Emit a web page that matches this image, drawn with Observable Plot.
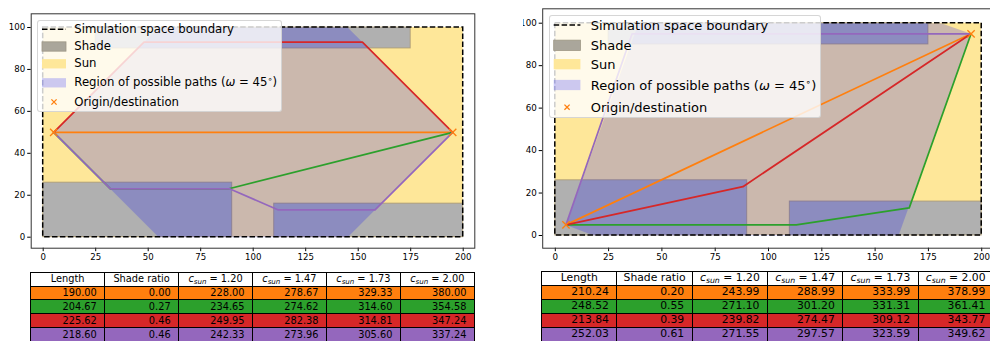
<!DOCTYPE html>
<html><head><meta charset="utf-8">
<script src="https://cdn.jsdelivr.net/npm/d3@7"></script>
<script src="https://cdn.jsdelivr.net/npm/@observablehq/plot@0.6"></script>
<style>
html,body{margin:0;padding:0;background:#fff;}
body{width:990px;height:341px;overflow:hidden;position:relative;font-family:"DejaVu Sans",sans-serif;}
.fig{position:absolute;top:0;overflow:hidden;}
.fig svg{max-width:none !important;display:block;}
.legend{position:absolute;background:rgba(255,255,255,0.8);border:1px solid rgba(204,204,204,0.8);border-radius:3px;box-sizing:border-box;}
.ltxt{position:absolute;white-space:nowrap;color:#000;line-height:1;}
.cell{position:absolute;box-sizing:border-box;border:1px solid #000;display:flex;align-items:center;white-space:nowrap;color:#000;line-height:1;}
.sb{font-size:0.72em;position:relative;top:0.28em;}
.sp{font-size:0.7em;position:relative;top:-0.5em;}
</style></head>
<body>
<script>
// ---------- data ----------
const xTicks = [0, 25, 50, 75, 100, 125, 150, 175, 200];
const yTicks = [0, 20, 40, 60, 80, 100];
const spaceX = [0, 200];
const spaceY = [0, 100];
const shadeX1 = [0, 110, 25];
const shadeX2 = [90, 200, 175];
const shadeY1 = [0, 0, 90];
const shadeY2 = [26, 16, 100];
const pathColors = ["#ff7f0e", "#2ca02c", "#d62728", "#9467bd"];
const legendLabels = ["Simulation space boundary", "Shade", "Sun", "Region of possible paths (ω = 45°)", "Origin/destination"];

// left scenario
const odL = [[5, 50], [195, 50]];
const regionL = [[5, 50], [55, 100], [145, 100], [195, 50], [145, 0], [55, 0]];
const orangeL = [[5, 50], [195, 50]];
const greenL = [[5, 50], [32, 23], [88, 23], [195, 50]];
const redL = [[5, 50], [48, 93], [152, 93], [195, 50]];
const purpleL = [[5, 50], [32, 23], [89, 23], [112, 13], [158, 13], [195, 50]];

// right scenario
const odR = [[5, 5], [195, 95]];
const regionR = [[5, 5], [39, 100], [181, 100], [195, 95], [161, 0], [18, 0]];
const orangeR = [[5, 5], [195, 95]];
const greenR = [[5, 5], [113, 5], [166, 13], [195, 95]];
const redR = [[5, 5], [88, 23], [195, 95]];
const purpleR = [[5, 5], [36, 95], [195, 95]];

// tables
const tableHeader = ["Length", "Shade ratio"];
const csun = [1.20, 1.47, 1.73, 2.00];
const lengthL = [190.00, 204.67, 225.62, 218.60];
const shadeRatioL = [0.00, 0.27, 0.46, 0.46];
const c120L = [228.00, 234.65, 249.95, 242.33];
const c147L = [278.67, 274.62, 282.38, 273.96];
const c173L = [329.33, 314.60, 314.81, 305.60];
const c200L = [380.00, 354.58, 347.24, 337.24];
const lengthR = [210.24, 248.52, 213.84, 252.03];
const shadeRatioR = [0.20, 0.55, 0.39, 0.61];
const c120R = [243.99, 271.10, 239.82, 271.55];
const c147R = [288.99, 301.20, 274.47, 297.57];
const c173R = [333.99, 331.31, 309.12, 323.59];
const c200R = [378.99, 361.41, 343.77, 349.62];

// ---------- styles ----------
const sunColor = "#fee799";
const shadeColor = "#b0b0b0";

function chart(o) {
  const shades = shadeX1.map((x1, i) => ({x1, x2: shadeX2[i], y1: shadeY1[i], y2: shadeY2[i]}));
  const space = [{x1: spaceX[0], x2: spaceX[1], y1: spaceY[0], y2: spaceY[1]}];
  const P = d => d[0], Q = d => d[1];
  return Plot.plot({
    width: o.width, height: o.height,
    marginLeft: o.ml, marginRight: o.mr, marginTop: o.mt, marginBottom: o.mb,
    style: {fontFamily: "DejaVu Sans", fontSize: o.tickFont + "px", color: "#000", background: "transparent"},
    x: {domain: o.xDomain, ticks: xTicks, tickSize: 3.5, tickPadding: 2.5, label: null},
    y: {domain: o.yDomain, ticks: yTicks, tickSize: 3.5, tickPadding: 2.5, label: null},
    marks: [
      Plot.rect(space, {x1: "x1", x2: "x2", y1: "y1", y2: "y2", fill: sunColor}),
      Plot.rect(shades, {x1: "x1", x2: "x2", y1: "y1", y2: "y2", fill: shadeColor, stroke: "#a8966c", strokeOpacity: 0.75, strokeWidth: 1}),
      Plot.line(o.region, {x: P, y: Q, fill: "blue", fillOpacity: 0.2, stroke: "none"}),
      Plot.rect(space, {x1: "x1", x2: "x2", y1: "y1", y2: "y2", fill: "none", stroke: "#000", strokeWidth: 1.5, strokeDasharray: "5.5,2.4"}),
      ...o.paths.map((p, i) => Plot.line(p, {x: P, y: Q, stroke: pathColors[i], strokeWidth: 1.7})),
      Plot.dot(o.od, {x: P, y: Q, symbol: "times", r: 3.4, stroke: "#ff7f0e", strokeWidth: 1.3}),
      Plot.frame({stroke: "#333", strokeWidth: 1})
    ]
  });
}

function place(el, left, w) {
  const wrap = document.createElement("div");
  wrap.className = "fig";
  wrap.style.left = left + "px";
  wrap.style.width = w + "px";
  el.style.maxWidth = "none";
  wrap.appendChild(el);
  document.body.appendChild(wrap);
  return wrap;
}

// left figure
const figL = chart({
  width: 490, height: 268, ml: 30.7, mr: 15.7, mt: 13.3, mb: 20.3,
  xDomain: [-5.71, 205.52], yDomain: [-5.25, 106.53], tickFont: 8.6,
  region: regionL, od: odL, paths: [orangeL, greenL, redL, purpleL]
});
place(figL, 0, 490);

// right figure (its left edge crops the first digit of the top tick label, as in the source image)
const rLeft = 522.5;
const figR = chart({
  width: 480, height: 268, ml: 541.7 - rLeft, mr: (rLeft + 480) - 993.3, mt: 8.3, mb: 20.3,
  xDomain: [-5.91, 205.9], yDomain: [-5.98, 106.78], tickFont: 8.7,
  region: regionR, od: odR, paths: [orangeR, greenR, redR, purpleR]
});
place(figR, rLeft, 480);

// ---------- legends ----------
function labelHTML(s) {
  return s.replace("ω", "<i>ω</i>").replace("°", "<span class='sp'>∘</span>");
}
function legend(c) {
  const d = document.createElement("div");
  d.className = "legend";
  Object.assign(d.style, {left: c.left + "px", top: c.top + "px", width: c.width + "px", height: c.height + "px"});
  const ns = "http://www.w3.org/2000/svg";
  const svg = document.createElementNS(ns, "svg");
  svg.setAttribute("width", c.width); svg.setAttribute("height", c.height);
  svg.style.position = "absolute"; svg.style.left = "-1px"; svg.style.top = "-1px";
  const sx = c.swX - c.left, sw = c.swW, sh = c.swH;
  const add = (tag, attrs) => { const e = document.createElementNS(ns, tag); for (const k in attrs) e.setAttribute(k, attrs[k]); svg.appendChild(e); };
  legendLabels.forEach((lab, i) => {
    const y = c.ys[i] - c.top;
    if (i === 0) add("line", {x1: sx, x2: sx + sw, y1: y, y2: y, stroke: "#000", "stroke-width": 1.5, "stroke-dasharray": "5.5,2.4"});
    if (i === 1) add("rect", {x: sx, y: y - sh / 2, width: sw, height: sh, fill: "#aaa69b", stroke: "#9d9684", "stroke-width": 0.8});
    if (i === 2) add("rect", {x: sx, y: y - sh / 2, width: sw, height: sh, fill: sunColor});
    if (i === 3) add("rect", {x: sx, y: y - sh / 2, width: sw, height: sh, fill: "blue", "fill-opacity": 0.2});
    if (i === 4) {
      const cx = sx + sw / 2, r = 2.6;
      add("path", {d: `M${cx - r},${y - r}L${cx + r},${y + r}M${cx - r},${y + r}L${cx + r},${y - r}`, stroke: "#ff7f0e", "stroke-width": 1.3, fill: "none"});
    }
    const t = document.createElement("div");
    t.className = "ltxt";
    t.style.fontSize = c.font + "px";
    t.style.left = (c.textX - c.left - 1) + "px";
    t.style.top = (y - c.font * 0.55) + "px";
    t.innerHTML = labelHTML(lab);
    d.appendChild(t);
  });
  d.appendChild(svg);
  document.body.appendChild(d);
}
legend({left: 36.7, top: 20, width: 245, height: 92, swX: 41.7, swW: 24, swH: 9.3, textX: 74.3, font: 11.7,
        ys: [29.3, 46.5, 63.8, 82.8, 102]});
legend({left: 549.3, top: 15, width: 271.7, height: 103.3, swX: 554, swW: 26.7, swH: 10.3, textX: 590.7, font: 13,
        ys: [25, 45.3, 64.2, 85, 107.2]});

// ---------- tables ----------
function fmt(v) { return v.toFixed(2); }
function table(c, cols) {
  const headers = [...tableHeader, ...csun.map(v => `<span><i>c</i><span class='sb'><i>sun</i></span> = ${fmt(v)}</span>`)];
  const nrows = cols[0].length;
  for (let r = -1; r < nrows; r++) {
    for (let j = 0; j < 6; j++) {
      const e = document.createElement("div");
      e.className = "cell";
      const top = c.top + (r + 1) * c.rh;
      Object.assign(e.style, {
        left: (c.left + j * c.cw - 0.5) + "px", top: (top - 0.5) + "px",
        width: (c.cw + 1) + "px", height: (c.rh + 1) + "px",
        fontSize: c.font + "px",
        background: r < 0 ? "#fff" : pathColors[r],
        justifyContent: r < 0 ? "center" : "flex-end",
        paddingRight: r < 0 ? "0" : (c.cw * 0.1) + "px"
      });
      e.innerHTML = r < 0 ? headers[j] : `<span>${fmt(cols[j][r])}</span>`;
      document.body.appendChild(e);
    }
  }
}
table({left: 30.7, top: 272.2, cw: 73.93, rh: 13.85, font: 9.8}, [lengthL, shadeRatioL, c120L, c147L, c173L, c200L]);
table({left: 541.7, top: 271.8, cw: 75.27, rh: 13.85, font: 10.8}, [lengthR, shadeRatioR, c120R, c147R, c173R, c200R]);
</script>
</body></html>
